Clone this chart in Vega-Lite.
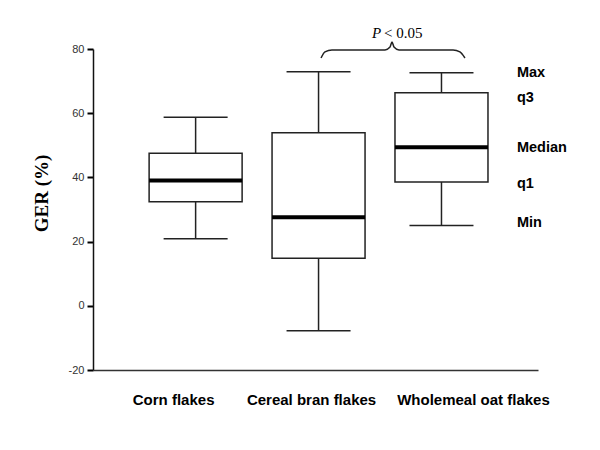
{
  "$schema": "https://vega.github.io/schema/vega-lite/v6.json",
  "autosize": "none",
  "padding": {"left": 93, "top": 49, "right": 62, "bottom": 80},
  "width": 445,
  "height": 321,
  "background": "white",
  "config": {"view": {"stroke": null}},
  "datasets": {
    "boxes": [
      {"group": "Corn flakes", "min": 20.9, "q1": 32.4, "median": 39.0, "q3": 47.5, "max": 58.7},
      {"group": "Cereal bran flakes", "min": -7.8, "q1": 14.8, "median": 27.6, "q3": 53.9, "max": 72.9},
      {"group": "Wholemeal oat flakes", "min": 25.0, "q1": 38.6, "median": 49.4, "q3": 66.4, "max": 72.6}
    ],
    "brace": [
      {"o": 1, "pos": 1.019, "v": 77.2},
      {"o": 2, "pos": 1.051, "v": 79.1},
      {"o": 3, "pos": 1.108, "v": 79.7},
      {"o": 4, "pos": 1.539, "v": 79.7},
      {"o": 5, "pos": 1.580, "v": 80.6},
      {"o": 6, "pos": 1.596, "v": 82.2},
      {"o": 7, "pos": 1.612, "v": 80.6},
      {"o": 8, "pos": 1.653, "v": 79.7},
      {"o": 9, "pos": 2.092, "v": 79.7},
      {"o": 10, "pos": 2.148, "v": 79.1},
      {"o": 11, "pos": 2.189, "v": 77.2}
    ],
    "stats": [
      {"label": "Max", "pos": 2.612, "v": 72.6},
      {"label": "q3", "pos": 2.612, "v": 64.6},
      {"label": "Median", "pos": 2.612, "v": 49.2},
      {"label": "q1", "pos": 2.612, "v": 38.0},
      {"label": "Min", "pos": 2.612, "v": 25.9}
    ],
    "ptxt": [
      {"p": "P", "rest": "< 0.05", "posP": 1.433, "posR": 1.531, "v": 83.4}
    ]
  },
  "layer": [
    {
      "data": {"name": "boxes"},
      "encoding": {
        "x": {
          "field": "group", "type": "nominal", "sort": null,
          "scale": {"paddingInner": 0, "paddingOuter": 0.31, "align": 0.54},
          "axis": {
            "title": null, "ticks": false, "labelAngle": 0,
            "domainColor": "#333", "domainWidth": 1.5,
            "labelFont": "Liberation Sans", "labelFontWeight": "bold", "labelFontSize": 15,
            "labelColor": "#000", "labelPadding": 22, "labelBaseline": "top",
            "labelOffset": {"condition": [
              {"test": "datum.value === 'Corn flakes'", "value": -22},
              {"test": "datum.value === 'Cereal bran flakes'", "value": -7}
            ], "value": 32}
          }
        }
      },
      "layer": [
        {
          "mark": {"type": "rule", "color": "#222", "strokeWidth": 1.5},
          "encoding": {
            "y": {"field": "min", "type": "quantitative",
              "scale": {"domain": [-20, 80], "nice": false, "zero": false},
              "axis": {
                "title": "GER (%)", "values": [-20, 0, 20, 40, 60, 80], "grid": false,
                "labelExpr": "'' + datum.value",
                "domainColor": "#111", "domainWidth": 1.5,
                "tickColor": "#000", "tickWidth": 2, "tickSize": 6,
                "labelFont": "Liberation Sans", "labelFontSize": 11, "labelColor": "#333", "labelPadding": 3,
                "titleFont": "Liberation Serif", "titleFontWeight": "bold", "titleFontSize": 19, "titleColor": "#000",
                "titleAngle": -90, "titleX": -46, "titleY": 144, "titleAlign": "center", "titleBaseline": "alphabetic"
              }
            },
            "y2": {"field": "max"}
          }
        },
        {
          "mark": {"type": "bar", "size": 93, "fill": "white", "stroke": "#222", "strokeWidth": 1.5},
          "encoding": {"y": {"field": "q1", "type": "quantitative"}, "y2": {"field": "q3"}}
        },
        {
          "mark": {"type": "tick", "size": 93, "thickness": 4, "color": "#000", "opacity": 1},
          "encoding": {"y": {"field": "median", "type": "quantitative"}}
        },
        {
          "mark": {"type": "tick", "size": 64, "thickness": 1.5, "color": "#222", "opacity": 1},
          "encoding": {"y": {"field": "min", "type": "quantitative"}}
        },
        {
          "mark": {"type": "tick", "size": 64, "thickness": 1.5, "color": "#222", "opacity": 1},
          "encoding": {"y": {"field": "max", "type": "quantitative"}}
        }
      ]
    },
    {
      "layer": [
        {
          "data": {"name": "brace"},
          "mark": {"type": "line", "interpolate": "monotone", "color": "#222", "strokeWidth": 1.5},
          "encoding": {
            "x": {"field": "pos", "type": "quantitative", "scale": {"domain": [-0.835, 2.783], "nice": false, "zero": false}, "axis": null},
            "y": {"field": "v", "type": "quantitative"},
            "order": {"field": "o"}
          }
        },
        {
          "data": {"name": "stats"},
          "mark": {"type": "text", "align": "left", "baseline": "middle", "font": "Liberation Sans", "fontWeight": "bold", "fontSize": 14.5, "color": "#000"},
          "encoding": {
            "x": {"field": "pos", "type": "quantitative"},
            "y": {"field": "v", "type": "quantitative"},
            "text": {"field": "label"}
          }
        },
        {
          "data": {"name": "ptxt"},
          "mark": {"type": "text", "align": "left", "baseline": "alphabetic", "font": "Liberation Serif", "fontStyle": "italic", "fontSize": 15, "color": "#000"},
          "encoding": {
            "x": {"field": "posP", "type": "quantitative"},
            "y": {"field": "v", "type": "quantitative"},
            "text": {"field": "p"}
          }
        },
        {
          "data": {"name": "ptxt"},
          "mark": {"type": "text", "align": "left", "baseline": "alphabetic", "font": "Liberation Serif", "fontSize": 15, "color": "#000"},
          "encoding": {
            "x": {"field": "posR", "type": "quantitative"},
            "y": {"field": "v", "type": "quantitative"},
            "text": {"field": "rest"}
          }
        }
      ]
    }
  ],
  "resolve": {"scale": {"x": "independent"}, "axis": {"x": "independent"}}
}
